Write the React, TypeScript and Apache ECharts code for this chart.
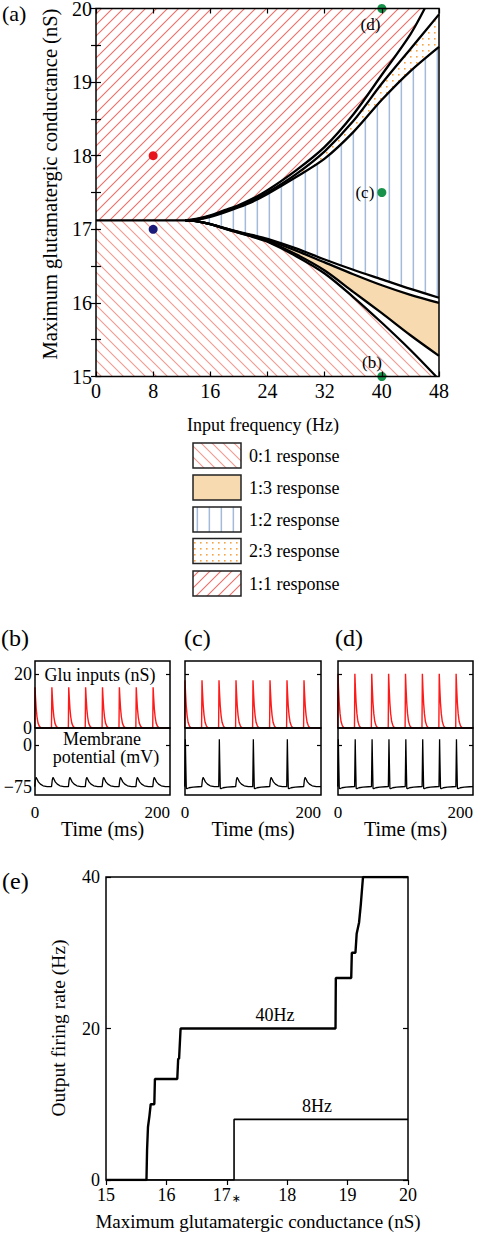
import { useEffect, useRef } from "react";
import * as echarts from "echarts";

const FONT = '"Liberation Serif", "Times New Roman", Times, serif';

// ---------------- (a) response-region boundaries: [input frequency (Hz), gmax (nS)]
const THRESHOLD_G = 17.12;
const THRESHOLD_F = 12.5;
const FLAT_LINE: number[][] = [[0, THRESHOLD_G], [THRESHOLD_F, THRESHOLD_G]];
const CURVE_A: number[][] = [[12.5, 17.12], [14, 17.14], [16, 17.19], [18, 17.26], [20, 17.33], [22, 17.42], [24, 17.53], [28, 17.8], [32, 18.12], [36, 18.56], [40, 19.1], [44, 19.65], [46, 20]];
const CURVE_B: number[][] = [[12.5, 17.12], [14, 17.135], [16, 17.18], [18, 17.245], [20, 17.32], [22, 17.4], [24, 17.5], [28, 17.75], [32, 18.06], [36, 18.47], [40, 18.98], [44, 19.45], [48, 19.92]];
const CURVE_C: number[][] = [[12.5, 17.12], [14, 17.13], [16, 17.17], [18, 17.23], [20, 17.3], [22, 17.38], [24, 17.48], [28, 17.71], [32, 17.96], [36, 18.32], [40, 18.76], [44, 19.15], [48, 19.48]];
const CURVE_D: number[][] = [[12.5, 17.12], [14, 17.11], [16, 17.07], [18, 17.015], [20, 16.965], [22, 16.92], [24, 16.87], [28, 16.74], [32, 16.59], [36, 16.45], [40, 16.32], [44, 16.19], [48, 16.07]];
const CURVE_D2: number[][] = [[12.5, 17.12], [14, 17.11], [16, 17.07], [18, 17.015], [20, 16.96], [22, 16.91], [24, 16.855], [28, 16.71], [32, 16.55], [36, 16.39], [40, 16.24], [44, 16.11], [48, 16.0]];
const CURVE_E: number[][] = [[12.5, 17.12], [14, 17.11], [16, 17.07], [18, 17.01], [20, 16.955], [22, 16.9], [24, 16.84], [28, 16.66], [32, 16.44], [36, 16.15], [40, 15.86], [44, 15.56], [48, 15.28]];
const CURVE_F: number[][] = [[12.5, 17.12], [14, 17.11], [16, 17.07], [18, 17.01], [20, 16.95], [22, 16.895], [24, 16.83], [28, 16.635], [32, 16.4], [36, 16.08], [40, 15.73], [44, 15.36], [47.6, 15]];

const MARKER_F = [8, 8, 40, 40, 40];
const MARKER_G = [18, 17, 15, 17.5, 20];
const MARKER_COLORS = ["#e8141b", "#1c1a78", "#17924a", "#17924a", "#17924a"];
const MARKER_LABELS = ["", "", "(b)", "(c)", "(d)"];

const LEGEND_LABELS = ["0:1 response", "1:3 response", "1:2 response", "2:3 response", "1:1 response"];

// ---------------- (b)(c)(d) traces
const INPUT_TIMES = [0, 25, 50, 75, 100, 125, 150, 175];
const GLU_DT = [-0.6, 0, 0.8, 1.8, 3, 4.5, 6.5, 9];
const GLU_FRAC = [0, 1, 0.74, 0.47, 0.27, 0.12, 0.04, 0];
const GLU_PEAKS = [15.2, 17.8, 20.2];
const EPSP_DT = [-0.5, 0.6, 1.6, 3, 5, 8, 12, 18];
const EPSP_V = [-74, -62, -57.5, -60.5, -65.5, -69.5, -72.5, -74];
const SPIKE_DT = [-0.4, 0.5, 1.1, 1.9, 3, 6, 12, 20];
const SPIKE_V = [-74, 11, -30, -77, -77.5, -76, -74.8, -74.2];
const RESPONSES_B = ["e", "e", "e", "e", "e", "e", "e", "e"];
const RESPONSES_C = ["s", "e", "s", "e", "s", "e", "s", "e"];
const RESPONSES_D = ["s", "s", "s", "s", "s", "s", "s", "s"];
const PANEL_TAGS = ["(b)", "(c)", "(d)"];

// ---------------- (e) output firing rate vs gmax
const RATE_40HZ: number[][] = [[15, 0], [15.67, 0], [15.68, 4], [15.695, 7], [15.72, 8.5], [15.74, 10], [15.8, 10], [15.81, 13.33], [16.18, 13.33], [16.195, 16], [16.21, 16], [16.235, 20], [18.8, 20], [18.805, 26.67], [19.06, 26.67], [19.07, 30], [19.13, 30], [19.15, 32.5], [19.19, 34], [19.22, 36.5], [19.255, 40], [20, 40]];
const RATE_8HZ: number[][] = [[15, 0], [17.12, 0], [17.12, 8], [20, 8]];

function makePattern(kind: string) {
  const c = document.createElement("canvas");
  let w = 11, h = 11;
  if (kind === "vert") { w = 12; h = 4; }
  if (kind === "dots") { w = 6; h = 6; }
  c.width = w; c.height = h;
  const ctx = c.getContext("2d")!;
  if (kind === "back" || kind === "fwd") {
    ctx.strokeStyle = kind === "back" ? "#f29a90" : "#ee6f68";
    ctx.lineWidth = 1.1;
    ctx.beginPath();
    if (kind === "back") {
      ctx.moveTo(-2, -2); ctx.lineTo(w + 2, h + 2);
      ctx.moveTo(-2, h - 2); ctx.lineTo(2, h + 2);
      ctx.moveTo(w - 2, -2); ctx.lineTo(w + 2, 2);
    } else {
      ctx.moveTo(-2, h + 2); ctx.lineTo(w + 2, -2);
      ctx.moveTo(-2, 2); ctx.lineTo(2, -2);
      ctx.moveTo(w - 2, h + 2); ctx.lineTo(w + 2, h - 2);
    }
    ctx.stroke();
  } else if (kind === "vert") {
    ctx.fillStyle = "#a3badb";
    ctx.fillRect(4.6, 0, 1.5, h);
  } else {
    ctx.fillStyle = "#f5a447";
    ctx.fillRect(2, 2, 1.6, 1.6);
  }
  return { image: c.toDataURL(), repeat: "repeat", imageWidth: w, imageHeight: h };
}

function buildGlu(peak: number) {
  const out: number[][] = [];
  INPUT_TIMES.forEach((t) => {
    GLU_DT.forEach((dt, i) => out.push([t + dt, peak * GLU_FRAC[i]]));
  });
  out.push([200, 0]);
  return out;
}

function buildMembrane(resp: string[]) {
  const out: number[][] = [];
  INPUT_TIMES.forEach((t, k) => {
    const dts = resp[k] === "s" ? SPIKE_DT : EPSP_DT;
    const vs = resp[k] === "s" ? SPIKE_V : EPSP_V;
    dts.forEach((dt, i) => out.push([t + dt, vs[i]]));
  });
  out.push([200, -74]);
  return out;
}

function txt(text: string, x: number, y: number, size: number, align = "center", rot = 0) {
  return {
    type: "text",
    x, y, rotation: rot, z: 20,
    style: {
      text, fill: "#000", fontSize: size, fontFamily: FONT,
      align, verticalAlign: "middle", textAlign: align, textVerticalAlign: "middle",
    },
  };
}

function buildOption() {
  const P_BACK = makePattern("back");
  const P_FWD = makePattern("fwd");
  const P_VERT = makePattern("vert");
  const P_DOTS = makePattern("dots");
  const TAN = "#f7dab0";

  const regions = [
    { pts: [[0, 15], [0, THRESHOLD_G], ...CURVE_F], fill: P_BACK },
    { pts: [[0, THRESHOLD_G], ...CURVE_A, [0, 20]], fill: P_FWD },
    { pts: [...CURVE_C, ...[...CURVE_D].reverse()], fill: P_VERT },
    { pts: [...CURVE_B, ...[...CURVE_C].reverse()], fill: P_DOTS },
    { pts: [...CURVE_D2, ...[...CURVE_E].reverse()], fill: TAN },
  ];
  const legendFills = [P_BACK, TAN, P_VERT, P_DOTS, P_FWD];

  const lbl = (size: number, margin: number, extra: any = {}) => ({
    color: "#000", fontFamily: FONT, fontSize: size, margin, ...extra,
  });
  const tick = (extra: any = {}) => ({ show: true, inside: true, length: 5, lineStyle: { color: "#000", width: 1.2 }, ...extra });
  const base = { type: "value", axisLine: { show: false }, splitLine: { show: false }, z: 11 };

  const grids: any[] = [
    { left: 96, top: 8.5, width: 343, height: 368 },
  ];
  const xAxis: any[] = [
    { ...base, gridIndex: 0, min: 0, max: 48, interval: 8, axisTick: tick(), axisLabel: lbl(20, 4) },
    { ...base, gridIndex: 0, position: "top", min: 0, max: 48, interval: 8, axisTick: tick(), axisLabel: { show: false } },
  ];
  const yAxis: any[] = [
    { ...base, gridIndex: 0, min: 15, max: 20, interval: 0.5, axisTick: tick(),
      axisLabel: lbl(20, 4, { lineHeight: 15, formatter: (v: number) => (Number.isInteger(v) ? String(v) : "") }) },
    { ...base, gridIndex: 0, position: "right", min: 15, max: 20, interval: 0.5, axisTick: tick(), axisLabel: { show: false } },
  ];

  const lefts = [35, 185, 338];
  const widths = [135, 136, 135];
  const series: any[] = [];
  const responses = [RESPONSES_B, RESPONSES_C, RESPONSES_D];

  for (let p = 0; p < 3; p++) {
    const gTop = grids.length;
    grids.push({ left: lefts[p], top: 661, width: widths[p], height: 67 });
    grids.push({ left: lefts[p], top: 728, width: widths[p], height: 67 });
    const xTop = xAxis.length;
    xAxis.push({ ...base, gridIndex: gTop, min: 0, max: 200, show: false });
    xAxis.push({ ...base, gridIndex: gTop + 1, min: 0, max: 200, axisTick: { show: false },
      axisLabel: lbl(17, 9, { customValues: [0, 200], alignMaxLabel: "right" }) });
    const yTop = yAxis.length;
    yAxis.push({ ...base, gridIndex: gTop, min: 0, max: 25, axisTick: tick({ length: 4, customValues: [20] }),
      axisLabel: p === 0 ? lbl(18, 3, { lineHeight: 14, customValues: [0, 20] }) : { show: false } });
    yAxis.push({ ...base, gridIndex: gTop, position: "right", min: 0, max: 25, axisTick: tick({ length: 4, customValues: [20] }), axisLabel: { show: false } });
    yAxis.push({ ...base, gridIndex: gTop + 1, min: -89, max: 31, axisTick: tick({ length: 4, customValues: [0] }),
      axisLabel: p === 0 ? lbl(18, 3, { lineHeight: 14, customValues: [-75, 0], formatter: (v: number) => (v < 0 ? "\u2212" + Math.abs(v) : String(v)) }) : { show: false } });
    yAxis.push({ ...base, gridIndex: gTop + 1, position: "right", min: -89, max: 31, axisTick: tick({ length: 4, customValues: [0] }), axisLabel: { show: false } });

    series.push({ type: "line", xAxisIndex: xTop, yAxisIndex: yTop, data: buildGlu(GLU_PEAKS[p]), symbol: "none",
      lineStyle: { color: "#ff1a1a", width: 1.4 }, z: 3, silent: true });
    series.push({ type: "line", xAxisIndex: xTop + 1, yAxisIndex: yTop + 2, data: buildMembrane(responses[p]), symbol: "none",
      lineStyle: { color: "#000", width: 1.3 }, z: 3, silent: true });
  }

  const gE = grids.length;
  grids.push({ left: 106, top: 877, width: 302, height: 303 });
  const xE = xAxis.length;
  xAxis.push({ ...base, gridIndex: gE, min: 15, max: 20, interval: 1, axisTick: { show: false },
    axisLabel: lbl(18, 6, {
      formatter: (v: number) => (v === 17 ? "17{s|\u2217}" : String(v)),
      rich: { s: { fontSize: 11, fontFamily: "DejaVu Sans", color: "#000", verticalAlign: "bottom", padding: [0, 0, 0, 1] } },
    }) });
  xAxis.push({ ...base, gridIndex: gE, position: "top", min: 15, max: 20, interval: 1, axisTick: tick(), axisLabel: { show: false } });
  const yE = yAxis.length;
  yAxis.push({ ...base, gridIndex: gE, min: 0, max: 40, interval: 20, axisTick: tick(), axisLabel: lbl(18, 6) });
  yAxis.push({ ...base, gridIndex: gE, position: "right", min: 0, max: 40, interval: 20, axisTick: tick(), axisLabel: { show: false } });

  series.push({ type: "line", xAxisIndex: xE, yAxisIndex: yE, data: RATE_40HZ, symbol: "none", lineStyle: { color: "#000", width: 2.4 }, z: 3, silent: true });
  series.push({ type: "line", xAxisIndex: xE, yAxisIndex: yE, data: RATE_8HZ, symbol: "none", lineStyle: { color: "#000", width: 1.6 }, z: 3, silent: true });

  // panel (a) series
  series.push({
    type: "custom", xAxisIndex: 0, yAxisIndex: 0, z: 1, silent: true, clip: true,
    data: regions.map((_, i) => [i, 0]),
    renderItem: (params: any, api: any) => {
      const r = regions[params.dataIndex];
      return { type: "polygon", shape: { points: r.pts.map((pt) => api.coord(pt)) }, style: { fill: r.fill, stroke: null, lineWidth: 0 } };
    },
  });
  [FLAT_LINE, CURVE_A, CURVE_B, CURVE_C, CURVE_D, CURVE_D2, CURVE_E, CURVE_F].forEach((c, i) => {
    series.push({ type: "line", xAxisIndex: 0, yAxisIndex: 0, data: c, symbol: "none", smooth: i === 0 ? false : 0.3,
      lineStyle: { color: "#000", width: 2.3 }, z: 3, silent: true });
  });
  const labelOffsets: any[] = [null, null, { distance: 0, offset: [4.5, -14.5] }, { distance: 3, offset: [0, 0] }, { distance: 0, offset: [3, 16] }];
  series.push({
    type: "scatter", xAxisIndex: 0, yAxisIndex: 0, symbolSize: 9, clip: false, z: 5, silent: true,
    data: MARKER_F.map((f, i) => ({
      value: [f, MARKER_G[i]],
      itemStyle: { color: MARKER_COLORS[i], opacity: 1 },
      label: MARKER_LABELS[i]
        ? { show: true, position: "left", formatter: MARKER_LABELS[i], color: "#000", fontFamily: FONT, fontSize: 17, ...labelOffsets[i] }
        : { show: false },
    })),
  });

  const graphics: any[] = [
    txt("(a)", 2, 13, 22, "left"),
    txt("Maximum glutamatergic conductance (nS)", 50, 184, 20.5, "center", Math.PI / 2),
    txt("Input frequency (Hz)", 263, 425, 18),
    txt("Glu inputs (nS)", 100, 675, 18),
    txt("Membrane", 102, 739, 18),
    txt("potential (mV)", 106, 757, 18),
    txt("(e)", 2, 881, 24, "left"),
    txt("Output firing rate (Hz)", 58, 1028, 19.5, "center", Math.PI / 2),
    txt("Maximum glutamatergic conductance (nS)", 258, 1221, 19),
    txt("40Hz", 275, 1015, 18),
    txt("8Hz", 317, 1106, 18),
  ];
  PANEL_TAGS.forEach((t, p) => {
    graphics.push(txt(t, [1, 184, 335][p], 638, 24, "left"));
    graphics.push(txt("Time (ms)", lefts[p] + widths[p] / 2, 829, 20));
  });
  const boxY = [443, 475, 507, 538.5, 571];
  LEGEND_LABELS.forEach((l, i) => {
    graphics.push({ type: "rect", z: 20, shape: { x: 193, y: boxY[i], width: 48, height: 25 },
      style: { fill: legendFills[i], stroke: "#222", lineWidth: 1.5 } });
    graphics.push(txt(l, 249, boxY[i] + 12.5, 18, "left"));
  });

  return {
    animation: false,
    backgroundColor: "#fff",
    grid: grids.map((g) => ({ ...g, show: true, borderColor: "#000", borderWidth: 1.5, backgroundColor: "transparent", z: 10, containLabel: false, outerBoundsMode: "none" })),
    xAxis, yAxis, series, graphic: graphics,
  };
}

export default function App() {
  const ref = useRef<HTMLDivElement>(null);
  useEffect(() => {
    if (!ref.current) return;
    const chart = echarts.init(ref.current, undefined, { renderer: "svg" });
    chart.setOption(buildOption() as any);
    return () => chart.dispose();
  }, []);
  return <div ref={ref} style={{ position: "absolute", left: 0, top: 0, width: 478, height: 1233 }} />;
}
